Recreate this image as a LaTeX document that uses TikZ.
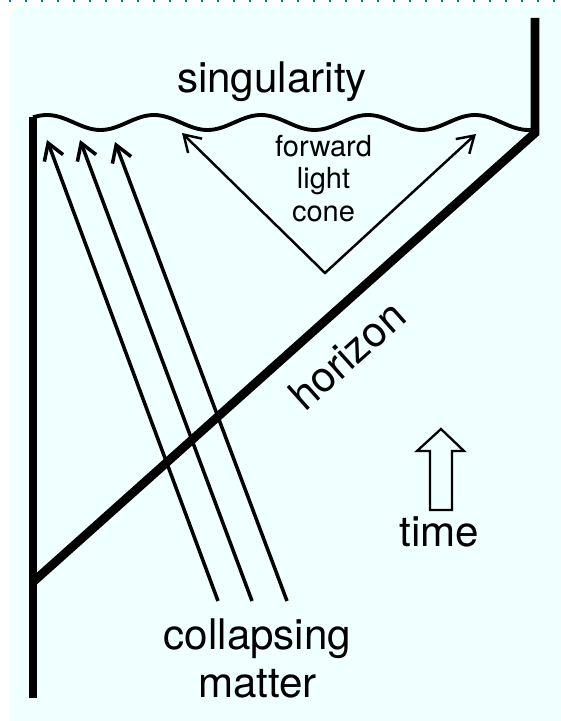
\documentclass[tikz,border=0pt]{standalone}
\usepackage{fontspec}
\setmainfont{TeX Gyre Heros}
\definecolor{bgcyan}{RGB}{240,255,255}
\definecolor{ruleblue}{RGB}{0,112,192}
\usetikzlibrary{arrows.meta}

\begin{document}
\begin{tikzpicture}[
  biglabel/.style={font=\fontsize{24}{27.3}\selectfont,inner sep=0pt},
  conelabel/.style={font=\fontsize{16.5}{18.7}\selectfont,align=center,inner sep=0pt},
  edgeline/.style={line width=5pt},
  matterline/.style={line width=2pt,-{Straight Barb[length=3.2mm,width=4mm]}},
  coneline/.style={line width=1.4pt,
                   {Straight Barb[length=3.2mm,width=4mm]}-{Straight Barb[length=3.2mm,width=4mm]}},
  timearrow/.style={line width=1.3pt,line join=miter},
]
  \useasboundingbox (0,0) rectangle (11.22,14.42);

  % Background
  \fill[bgcyan,rounded corners=6pt] (0.20,-0.4) rectangle (11.8,14.30);
  \draw[ruleblue,line width=1.1pt,dash pattern=on 0.04cm off 0.28cm] (0.18,14.40) -- (11.22,14.40);

  % Boundary and horizon
  \coordinate (lefttop) at (0.66,12.07);
  \coordinate (leftbottom) at (0.66,0.46);
  \coordinate (horizonL) at (0.66,2.78);
  \coordinate (horizonR) at (10.70,11.76);
  \coordinate (righttop) at (10.70,14.06);
  \draw[edgeline] (lefttop) -- (leftbottom);
  \draw[edgeline] (horizonL) -- (horizonR) -- (righttop);

  % Singularity
  \draw[line width=2.2pt] plot[domain=0.66:10.70,samples=150,smooth]
    (\x,{11.97+0.15*cos(360*(\x-0.94)/2.14)});
  \node[biglabel,anchor=base] (singularity) at (5.44,12.56) {singularity};

  % Collapsing matter
  \foreach \i/\bx/\tx/\ty in {1/4.36/0.94/11.62, 2/5.04/1.60/11.62, 3/5.74/2.30/11.58} {
    \coordinate (matter\i) at (\bx,2.40);
    \coordinate (tip\i) at (\tx,\ty);
    \draw[matterline] (matter\i) -- (tip\i);
  }
  \node[biglabel,align=center] (mattertext) at (5.15,1.26) {collapsing\\matter};

  % Forward light cone
  \coordinate (apex) at (6.50,8.96);
  \coordinate (coneleft) at (3.64,11.76);
  \coordinate (coneright) at (9.52,11.74);
  \draw[coneline] (coneleft) -- (apex) -- (coneright);
  \node[conelabel] (conetext) at (6.47,10.85) {forward\\light\\cone};

  % Horizon label
  \node[biglabel,rotate=41.8] (horizontext) at (6.94,7.32) {horizon};

  % Time
  \draw[timearrow] (8.60,4.22) -- (8.60,5.40) -- (8.34,5.40) -- (8.82,5.84)
    -- (9.28,5.40) -- (9.04,5.40) -- (9.04,4.22) -- cycle;
  \node[biglabel,anchor=base] (timetext) at (8.79,3.48) {time};
\end{tikzpicture}
\end{document}
